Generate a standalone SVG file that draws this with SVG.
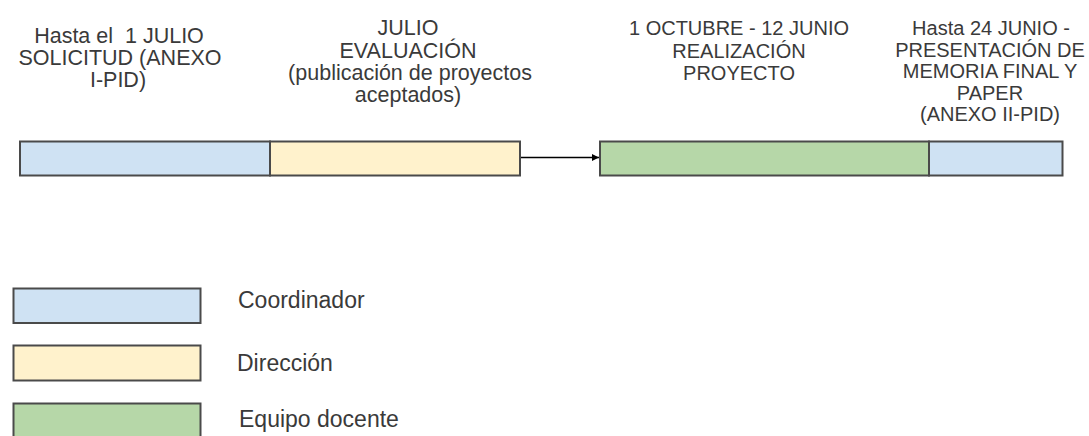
<svg xmlns="http://www.w3.org/2000/svg" width="1089" height="436" viewBox="0 0 1089 436">
<style>
  .t { font-family: "Liberation Sans", Arial, sans-serif; font-size: 20px; fill: #3a3a3a; text-anchor: middle; }
  .big { font-size: 21.5px; }
  .lg { font-family: "Liberation Sans", Arial, sans-serif; font-size: 23px; fill: #3a3a3a; }
  .box { stroke: #4a4a4a; stroke-width: 2; }
  .coord { fill: #cfe2f3; }
  .dir { fill: #fff2cc; }
  .equipo { fill: #b6d7a8; }
  .conn { stroke: #000000; stroke-width: 1.3; fill: none; }
</style>
<defs>
  <marker id="arrow" viewBox="0 0 10 10" refX="10" refY="5" markerWidth="7" markerHeight="7" markerUnits="userSpaceOnUse" orient="auto">
    <path d="M0,0 L10,5 L0,10 z" fill="#000000"/>
  </marker>
</defs>
<rect width="1089" height="436" fill="#ffffff"/>

<g id="solicitud">
  <rect class="box coord" x="20" y="141.5" width="250" height="34"/>
  <text class="t big" xml:space="preserve"><tspan x="119" y="43">Hasta el  1 JULIO</tspan><tspan x="120" y="65">SOLICITUD (ANEXO</tspan><tspan x="118" y="87">I-PID)</tspan></text>
</g>

<g id="evaluacion">
  <rect class="box dir" x="270" y="141.5" width="250" height="34"/>
  <text class="t big"><tspan x="408" y="35">JULIO</tspan><tspan x="408" y="57.5">EVALUACIÓN</tspan><tspan x="410" y="80">(publicación de proyectos</tspan><tspan x="408" y="102">aceptados)</tspan></text>
</g>

<g id="realizacion">
  <rect class="box equipo" x="600" y="141.5" width="329" height="34"/>
  <text class="t"><tspan x="739" y="35">1 OCTUBRE - 12 JUNIO</tspan><tspan x="739" y="57.5">REALIZACIÓN</tspan><tspan x="739" y="80">PROYECTO</tspan></text>
</g>

<g id="memoria">
  <rect class="box coord" x="929" y="141.5" width="133.5" height="34"/>
  <text class="t"><tspan x="991" y="35">Hasta 24 JUNIO -</tspan><tspan x="990" y="56.5">PRESENTACIÓN DE</tspan><tspan x="990" y="78">MEMORIA FINAL Y</tspan><tspan x="990" y="99.5">PAPER</tspan><tspan x="990" y="121">(ANEXO II-PID)</tspan></text>
</g>

<g id="connectors">
  <line class="conn" x1="521" y1="157.5" x2="599" y2="157.5" marker-end="url(#arrow)"/>
</g>

<g id="legend-coordinador">
  <rect class="box coord" x="13.5" y="288.5" width="187" height="34.5"/>
  <text class="lg" x="238" y="308">Coordinador</text>
</g>
<g id="legend-direccion">
  <rect class="box dir" x="13.5" y="345.5" width="187" height="35"/>
  <text class="lg" x="237" y="371">Dirección</text>
</g>
<g id="legend-equipo">
  <rect class="box equipo" x="13.5" y="403.5" width="187" height="40"/>
  <text class="lg" x="239" y="427">Equipo docente</text>
</g>
</svg>
